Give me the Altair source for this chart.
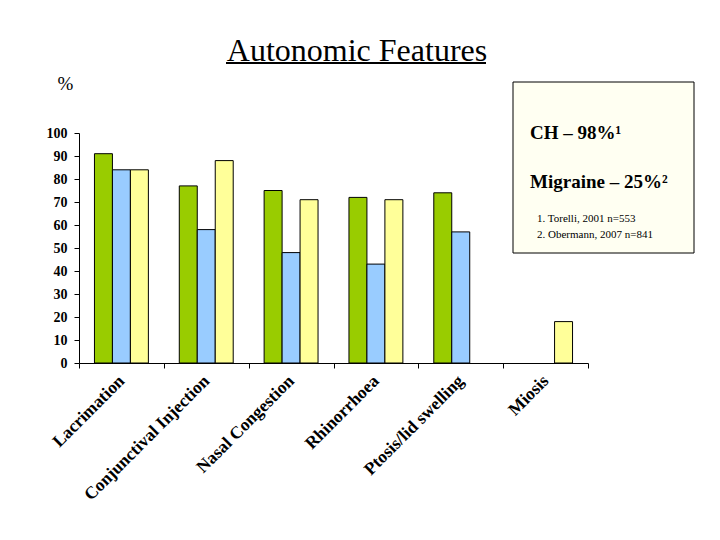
import altair as alt
import pandas as pd

features = ["Lacrimation", "Conjunctival Injection", "Nasal Congestion",
            "Rhinorrhoea", "Ptosis/lid swelling", "Miosis"]
series = ["Series 1", "Series 2", "Series 3"]
colors = ["#99CC00", "#99CCFF", "#FFFF99"]
s1 = [91, 77, 75, 72, 74, None]
s2 = [84, 58, 48, 43, 57, None]
s3 = [84, 88, 71, 71, None, 18]
y_ticks = [0, 10, 20, 30, 40, 50, 60, 70, 80, 90, 100]

title_text = "Autonomic Features"
box_line1 = "CH – 98%¹"
box_line2 = "Migraine – 25%²"
note1 = "1. Torelli, 2001 n=553"
note2 = "2. Obermann, 2007 n=841"

rows = []
for name, vals in zip(series, [s1, s2, s3]):
    for f, v in zip(features, vals):
        if v is not None:
            rows.append({"feature": f, "series": name, "value": v})
df = pd.DataFrame(rows)

W, H = 509, 230
SERIF = "Liberation Serif, Times New Roman, serif"

bars = alt.Chart(df).mark_bar(stroke="black", strokeWidth=1).encode(
    x=alt.X("feature:N",
            scale=alt.Scale(domain=features, paddingInner=0, paddingOuter=0),
            axis=alt.Axis(title=None, tickBand="extent", labelAngle=-45,
                          labelAlign="right", labelBaseline="middle",
                          labelFont=SERIF, labelFontWeight="bold", labelFontSize=17.5,
                          labelColor="black", domainColor="black", tickColor="black",
                          tickSize=5, labelPadding=10, labelLimit=0)),
    xOffset=alt.XOffset("series:N",
                        scale=alt.Scale(domain=series, paddingInner=0, paddingOuter=0.86)),
    y=alt.Y("value:Q", scale=alt.Scale(domain=[0, 100]),
            axis=alt.Axis(values=y_ticks, grid=False, title="%", titleAngle=0,
                          titleX=-14, titleY=-44, titleFont=SERIF, titleFontSize=19,
                          titleFontWeight="normal", titleColor="black",
                          titleAlign="center", titleBaseline="alphabetic",
                          labelFont=SERIF, labelFontWeight="bold", labelFontSize=14,
                          labelColor="black", domainColor="black", tickColor="black",
                          tickSize=5, labelPadding=7)),
    color=alt.Color("series:N", scale=alt.Scale(domain=series, range=colors), legend=None),
)

one = pd.DataFrame({"t": [title_text]})
title = alt.Chart(one).mark_text(font=SERIF, fontSize=32, align="center",
                                 baseline="alphabetic", color="black").encode(
    x=alt.value(278), y=alt.value(-72), text="t:N")
underline = alt.Chart(one).mark_rule(color="black", strokeWidth=2).encode(
    x=alt.value(147), x2=alt.value(407), y=alt.value(-70))

box = alt.Chart(one).mark_rect(fill="#FFFFF2", stroke="black", strokeWidth=1).encode(
    x=alt.value(434), x2=alt.value(615), y=alt.value(-51), y2=alt.value(120))

big = pd.DataFrame({"t": [box_line1, box_line2], "yy": [6, 55]})
big_text = alt.Chart(big).mark_text(font=SERIF, fontSize=19, fontWeight="bold",
                                    align="left", baseline="alphabetic", color="black").encode(
    x=alt.value(451), y=alt.Y("yy:Q", scale=None), text="t:N")

notes = pd.DataFrame({"t": [note1, note2], "yy": [89, 105]})
note_text = alt.Chart(notes).mark_text(font=SERIF, fontSize=11, align="left",
                                       baseline="alphabetic", color="black").encode(
    x=alt.value(458), y=alt.Y("yy:Q", scale=None), text="t:N")

chart = alt.layer(bars, box, big_text, note_text, title, underline).properties(
    width=W, height=H,
    autosize=alt.AutoSizeParams(type="none"),
    padding={"left": 71, "top": 125, "right": 120, "bottom": 160},
    background="white",
).configure_view(stroke=None)

chart.save("out.html", embed_options={"renderer": "svg", "actions": False})
